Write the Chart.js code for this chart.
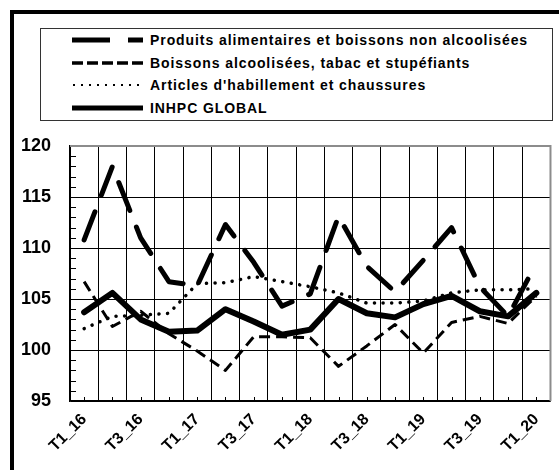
<!DOCTYPE html>
<html>
<head>
<meta charset="utf-8">
<script src="https://cdn.jsdelivr.net/npm/chart.js@4/dist/chart.umd.min.js"></script>
<style>
  html, body { margin: 0; padding: 0; background: #fff; }
  #wrap { position: relative; width: 559px; height: 470px; overflow: hidden; background: #fff; }
  #frame { position: absolute; left: 10px; top: 10px; width: 700px; height: 600px;
           border-left: 4px solid #000; border-top: 4px solid #000; box-sizing: border-box; }
  #chart { position: absolute; left: 0; top: 0; }
  #legend { position: absolute; left: 40px; top: 28px; width: 513px; height: 93px;
            border: 1px solid #333; box-sizing: border-box; background: #fff;
            font-family: "Liberation Sans", Arial, sans-serif; font-weight: bold; font-size: 14px;
            letter-spacing: 0.92px; color: #000; }
  .row { position: absolute; left: 0; height: 20px; width: 100%; }
  .row svg { position: absolute; left: 31px; top: 6px; }
  .row span { position: absolute; left: 109px; top: 1px; white-space: nowrap; line-height: 18px; }
</style>
</head>
<body>
<div id="wrap">
  <div id="frame"></div>
  <canvas id="chart" width="559" height="470"></canvas>
  <div id="legend"></div>
</div>
<script>
// ---- data ----
const categories = ["T1_16","T2_16","T3_16","T4_16","T1_17","T2_17","T3_17","T4_17",
                    "T1_18","T2_18","T3_18","T4_18","T1_19","T2_19","T3_19","T4_19","T1_20"];
const seriesNames = ["Produits alimentaires et boissons non alcoolisées",
                     "Boissons alcoolisées, tabac et stupéfiants",
                     "Articles d'habillement et chaussures",
                     "INHPC GLOBAL"];
const produits = [110.8, 118.0, 111.0, 106.7, 106.3, 112.3, 108.6, 104.3, 105.5, 113.1, 108.2, 105.7, 108.8, 112.0, 106.2, 103.3, 108.5];
const boissons = [106.7, 102.3, 103.8, 101.6, 99.9, 98.0, 101.3, 101.3, 101.2, 98.4, 100.4, 102.5, 99.7, 102.7, 103.3, 102.6, 105.3];
const articles = [102.1, 103.3, 103.4, 103.6, 106.5, 106.6, 107.2, 106.7, 106.2, 105.6, 104.6, 104.6, 104.8, 105.6, 105.9, 105.9, 106.0];
const inhpc    = [103.7, 105.6, 103.0, 101.8, 101.9, 104.0, 102.8, 101.5, 102.0, 105.0, 103.6, 103.2, 104.5, 105.3, 103.8, 103.3, 105.6];
const yTicks = [95, 100, 105, 110, 115, 120];

// ---- legend (HTML) ----
const legendSamples = [
  '<line x1="0" y1="4" x2="71" y2="4" stroke="#000" stroke-width="5" stroke-dasharray="38 18 15"/>',
  '<line x1="0" y1="4" x2="71" y2="4" stroke="#000" stroke-width="3.5" stroke-dasharray="11 4"/>',
  '<line x1="1" y1="4" x2="71" y2="4" stroke="#000" stroke-width="2" stroke-dasharray="2 6"/>',
  '<line x1="0" y1="4" x2="71" y2="4" stroke="#000" stroke-width="5"/>'
];
const rowTops = [1, 24, 46, 69];
const leg = document.getElementById('legend');
seriesNames.forEach((n, i) => {
  const r = document.createElement('div');
  r.className = 'row';
  r.style.top = rowTops[i] + 'px';
  r.innerHTML = '<svg width="72" height="8">' + legendSamples[i] + '</svg><span></span>';
  r.querySelector('span').textContent = n;
  leg.appendChild(r);
});

// ---- plugin: minor ticks + plot border ----
const decor = {
  id: 'decor',
  beforeDatasetsDraw(chart) {
    const {ctx, chartArea: a, scales: {x, y}} = chart;
    ctx.save();
    ctx.strokeStyle = '#000';
    ctx.lineWidth = 1;
    ctx.beginPath();
    for (let v = 96; v < 120; v++) {
      if (v % 5 === 0) continue;
      const py = Math.round(y.getPixelForValue(v)) + 0.5;
      ctx.moveTo(a.left, py); ctx.lineTo(a.left + 6, py);
    }
    for (let i = 0; i < categories.length; i++) {
      const px = Math.round(x.getPixelForValue(i)) + 0.5;
      ctx.moveTo(px, a.bottom); ctx.lineTo(px, a.bottom - 4);
    }
    ctx.stroke();
    ctx.strokeStyle = '#8c8c8c';
    ctx.lineWidth = 2;
    ctx.beginPath();
    ctx.moveTo(a.left, a.top); ctx.lineTo(a.right, a.top); ctx.lineTo(a.right, a.bottom);
    ctx.stroke();
    ctx.restore();
  }
};

new Chart(document.getElementById('chart'), {
  type: 'line',
  data: {
    labels: categories,
    datasets: [
      { label: seriesNames[0], data: produits, borderColor: '#000', borderWidth: 5,
        borderDash: [30, 18], borderCapStyle: 'round', borderJoinStyle: 'round', order: 3 },
      { label: seriesNames[1], data: boissons, borderColor: '#000', borderWidth: 3,
        borderDash: [11, 6], borderCapStyle: 'butt', borderJoinStyle: 'round', order: 2 },
      { label: seriesNames[2], data: articles, borderColor: '#000', borderWidth: 3.5,
        borderDash: [0.1, 8.5], borderCapStyle: 'round', borderJoinStyle: 'round', order: 1 },
      { label: seriesNames[3], data: inhpc, borderColor: '#000', borderWidth: 6,
        borderCapStyle: 'round', borderJoinStyle: 'round', order: 0 }
    ]
  },
  options: {
    responsive: false,
    animation: false,
    devicePixelRatio: 1,
    layout: { padding: { top: 146, left: 0, right: 2.5, bottom: 0 } },
    elements: { point: { radius: 0, hoverRadius: 0 }, line: { tension: 0 } },
    plugins: { legend: { display: false }, tooltip: { enabled: false } },
    scales: {
      x: {
        offset: true,
        grid: { offset: true, color: '#000', lineWidth: 1, drawTicks: false },
        border: { color: '#000', width: 1.5 },
        ticks: {
          autoSkip: false, maxRotation: 45, minRotation: 45, padding: 9, color: '#000',
          font: { family: '"Liberation Sans", Arial, sans-serif', size: 16, weight: 'bold' },
          callback: (v, i) => (i % 2 === 0 ? categories[i] : '')
        },
        afterFit: s => { s.height = 69; }
      },
      y: {
        min: 95, max: 120,
        afterBuildTicks: s => { s.ticks = yTicks.map(v => ({ value: v })); },
        grid: { color: '#000', lineWidth: 1, drawTicks: false },
        border: { color: '#000', width: 1.5 },
        ticks: {
          padding: 19, color: '#000',
          font: { family: '"Liberation Sans", Arial, sans-serif', size: 18, weight: 'bold' }
        },
        afterFit: s => { s.width = 70; }
      }
    }
  },
  plugins: [decor]
});
</script>
</body>
</html>
